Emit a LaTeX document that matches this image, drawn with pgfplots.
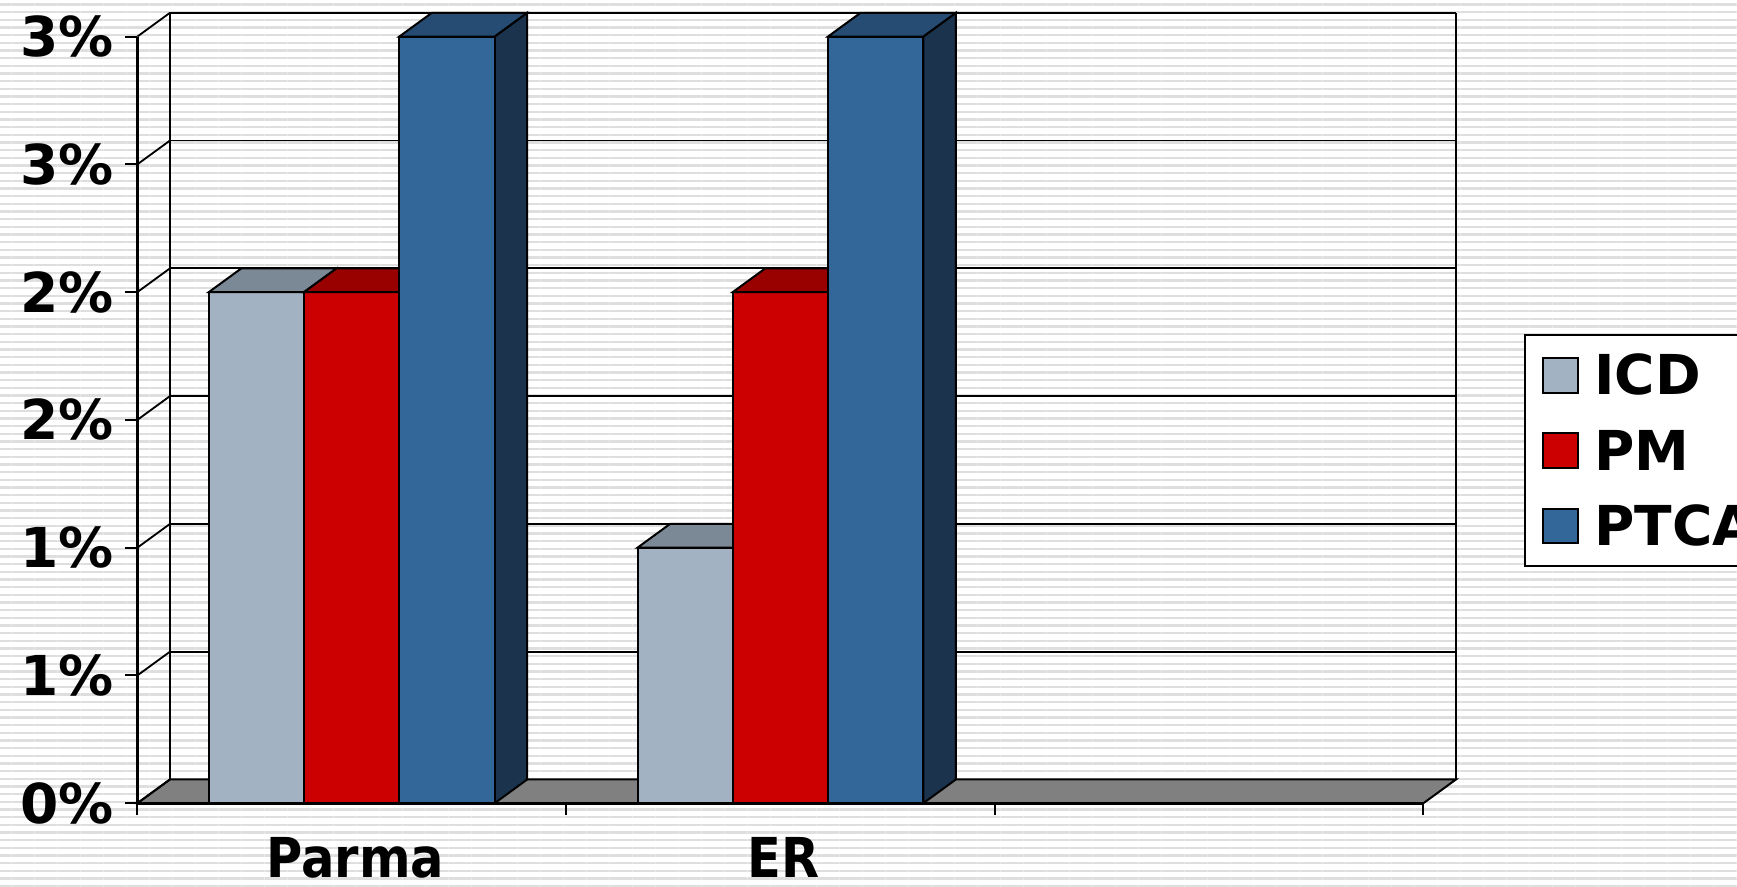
\documentclass[border=0pt]{standalone}
\usepackage{fontspec}
\setmainfont{DejaVu Sans Condensed}
\newfontfamily\widefont{DejaVu Sans}
\usepackage{pgfplots}
\pgfplotsset{compat=1.18}
\usetikzlibrary{patterns.meta}
\definecolor{icdF}{HTML}{A2B2C3}
\definecolor{icdT}{HTML}{7B8896}
\definecolor{icdS}{HTML}{515A62}
\definecolor{pmF}{HTML}{CC0000}
\definecolor{pmT}{HTML}{990000}
\definecolor{pmS}{HTML}{660000}
\definecolor{ptF}{HTML}{336699}
\definecolor{ptT}{HTML}{264C73}
\definecolor{ptS}{HTML}{1B334D}
\definecolor{floorC}{HTML}{808080}
\begin{document}
\begin{tikzpicture}
\path[use as bounding box] (-41.22pt,-24.84pt) rectangle (479.88pt,240.96pt);
\clip (-41.22pt,-24.84pt) rectangle (479.88pt,240.96pt);
\fill[white] (-41.22pt,-24.84pt) rectangle (479.88pt,240.96pt);
\fill[pattern={Lines[angle=0,distance=2.3pt,line width=0.7pt]}, pattern color=black!13] (-41.22pt,-24.84pt) rectangle (479.88pt,240.96pt);
\begin{axis}[
  at={(0,0)}, anchor=south west, scale only axis,
  width=385.8pt, height=230pt,
  xmin=0, xmax=3, ymin=0, ymax=3, clip=false,
  axis x line=bottom, axis y line=left,
  axis line style={-, line width=0.9pt},
  xtick={0,1,2,3}, xticklabels={},
  ytick={0,0.5,1,1.5,2,2.5,3},
  yticklabels={0\%,1\%,1\%,2\%,2\%,3\%,3\%},
  tick align=outside, major tick length=3.6pt,
  tick style={black, line width=0.6pt},
  xticklabel style={font=\bfseries\fontsize{16.5}{19}\selectfont},
  yticklabel style={font=\widefont\bfseries\fontsize{16.5}{19}\selectfont},
  extra x ticks={0.508,1.507},
  extra x tick labels={Parma,ER},
  extra x tick style={grid=none, major tick length=0pt, tick label style={yshift=-6.6pt}},
  legend style={at={(1.078,0.612)}, anchor=north west, draw=black, line width=0.6pt, fill=white,
    font=\widefont\bfseries\fontsize{16.5}{19}\selectfont, row sep=6.9pt, inner xsep=3.5pt, inner ysep=4.2pt,
    nodes={inner sep=2pt, text height=11.7pt, text depth=0pt}},
  legend cell align=left,
]
% floor
\addplot[fill=floorC, draw=black, line width=0.6pt, forget plot] coordinates {(0,0) (3,0) (3.076,0.093) (0.076,0.093)} --cycle;
% back wall grid lines and edges
\addplot[black, line width=0.55pt, forget plot, unbounded coords=jump] coordinates {
 (0.076,0.093) (3.076,0.093) (nan,nan)
 (0.076,0.593) (3.076,0.593) (nan,nan)
 (0.076,1.093) (3.076,1.093) (nan,nan)
 (0.076,1.593) (3.076,1.593) (nan,nan)
 (0.076,2.093) (3.076,2.093) (nan,nan)
 (0.076,2.593) (3.076,2.593) (nan,nan)
 (0.076,3.093) (3.076,3.093) (nan,nan)
 (0.076,0.093) (0.076,3.093) (nan,nan)
 (3.076,0.093) (3.076,3.093)};
% side wall diagonals
\addplot[black, line width=0.55pt, forget plot, unbounded coords=jump] coordinates {
 (0,0) (0.076,0.093) (nan,nan)
 (0,0.5) (0.076,0.593) (nan,nan)
 (0,1) (0.076,1.093) (nan,nan)
 (0,1.5) (0.076,1.593) (nan,nan)
 (0,2) (0.076,2.093) (nan,nan)
 (0,2.5) (0.076,2.593) (nan,nan)
 (0,3) (0.076,3.093)};
% ---- Parma: ICD 2, PM 2, PTCA 3
\addplot[fill=icdS, draw=black, line width=0.6pt, forget plot] coordinates {(0.3889,0) (0.4649,0.093) (0.4649,2.093) (0.3889,2)} --cycle;
\addplot[fill=icdF, draw=black, line width=0.6pt, forget plot] coordinates {(0.1667,0) (0.3889,0) (0.3889,2) (0.1667,2)} --cycle;
\addplot[fill=icdT, draw=black, line width=0.6pt, forget plot] coordinates {(0.1667,2) (0.3889,2) (0.4649,2.093) (0.2427,2.093)} --cycle;
\addplot[fill=pmS, draw=black, line width=0.6pt, forget plot] coordinates {(0.6111,0) (0.6871,0.093) (0.6871,2.093) (0.6111,2)} --cycle;
\addplot[fill=pmF, draw=black, line width=0.6pt, forget plot] coordinates {(0.3889,0) (0.6111,0) (0.6111,2) (0.3889,2)} --cycle;
\addplot[fill=pmT, draw=black, line width=0.6pt, forget plot] coordinates {(0.3889,2) (0.6111,2) (0.6871,2.093) (0.4649,2.093)} --cycle;
\addplot[fill=ptS, draw=black, line width=0.6pt, forget plot] coordinates {(0.8333,0) (0.9093,0.093) (0.9093,3.093) (0.8333,3)} --cycle;
\addplot[fill=ptF, draw=black, line width=0.6pt, forget plot] coordinates {(0.6111,0) (0.8333,0) (0.8333,3) (0.6111,3)} --cycle;
\addplot[fill=ptT, draw=black, line width=0.6pt, forget plot] coordinates {(0.6111,3) (0.8333,3) (0.9093,3.093) (0.6871,3.093)} --cycle;
% ---- ER: ICD 1, PM 2, PTCA 3
\addplot[fill=icdS, draw=black, line width=0.6pt, forget plot] coordinates {(1.3889,0) (1.4649,0.093) (1.4649,1.093) (1.3889,1)} --cycle;
\addplot[fill=icdF, draw=black, line width=0.6pt, forget plot] coordinates {(1.1667,0) (1.3889,0) (1.3889,1) (1.1667,1)} --cycle;
\addplot[fill=icdT, draw=black, line width=0.6pt, forget plot] coordinates {(1.1667,1) (1.3889,1) (1.4649,1.093) (1.2427,1.093)} --cycle;
\addplot[fill=pmS, draw=black, line width=0.6pt, forget plot] coordinates {(1.6111,0) (1.6871,0.093) (1.6871,2.093) (1.6111,2)} --cycle;
\addplot[fill=pmF, draw=black, line width=0.6pt, forget plot] coordinates {(1.3889,0) (1.6111,0) (1.6111,2) (1.3889,2)} --cycle;
\addplot[fill=pmT, draw=black, line width=0.6pt, forget plot] coordinates {(1.3889,2) (1.6111,2) (1.6871,2.093) (1.4649,2.093)} --cycle;
\addplot[fill=ptS, draw=black, line width=0.6pt, forget plot] coordinates {(1.8333,0) (1.9093,0.093) (1.9093,3.093) (1.8333,3)} --cycle;
\addplot[fill=ptF, draw=black, line width=0.6pt, forget plot] coordinates {(1.6111,0) (1.8333,0) (1.8333,3) (1.6111,3)} --cycle;
\addplot[fill=ptT, draw=black, line width=0.6pt, forget plot] coordinates {(1.6111,3) (1.8333,3) (1.9093,3.093) (1.6871,3.093)} --cycle;
% legend
\addlegendimage{legend image code/.code={\path (0pt,0pt) (14.8pt,0pt); \draw[fill=icdF, draw=black, line width=0.6pt] (1.7pt,-5.2pt) rectangle (12.2pt,5.2pt);}}
\addlegendentry{ICD}
\addlegendimage{legend image code/.code={\path (0pt,0pt) (14.8pt,0pt); \draw[fill=pmF, draw=black, line width=0.6pt] (1.7pt,-5.2pt) rectangle (12.2pt,5.2pt);}}
\addlegendentry{PM}
\addlegendimage{legend image code/.code={\path (0pt,0pt) (14.8pt,0pt); \draw[fill=ptF, draw=black, line width=0.6pt] (1.7pt,-5.2pt) rectangle (12.2pt,5.2pt);}}
\addlegendentry{PTCA}
\end{axis}
\end{tikzpicture}
\end{document}
